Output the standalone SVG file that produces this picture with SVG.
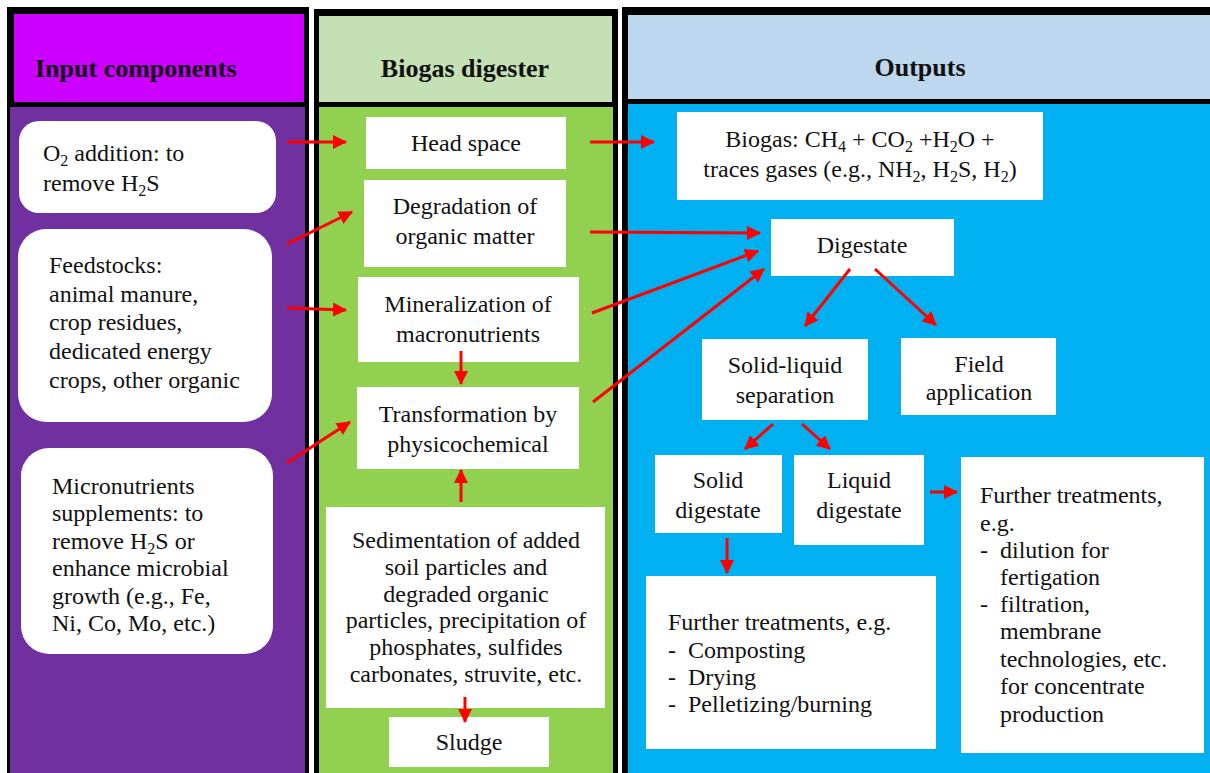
<svg xmlns="http://www.w3.org/2000/svg" width="1210" height="773" viewBox="0 0 1210 773" font-family="Liberation Serif, Times New Roman, DejaVu Serif, serif">
<style>
text{font-family:'Liberation Serif','Times New Roman','DejaVu Serif',serif;font-size:24px;fill:#111}
.h{font-weight:bold;font-size:26px}
.c{text-anchor:middle}
.s{font-size:16px}
.box{fill:#fff}
.con{stroke:#f00;stroke-width:3;fill:none;marker-end:url(#ah)}
</style>
<defs>
<marker id="ah" markerUnits="userSpaceOnUse" markerWidth="14" markerHeight="14" refX="13" refY="7" orient="auto">
<path d="M0,0 L14,7 L0,14 z" fill="#f00"/>
</marker>
</defs>
<rect width="1210" height="773" fill="#fff"/>
<g id="col-input">
<rect x="7" y="7" width="302" height="775" fill="#000"/>
<rect x="14" y="14" width="290" height="88" fill="#CC00FF"/>
<rect x="10" y="107" width="295" height="670" fill="#7030A0"/>
<text class="h" x="35" y="77">Input components</text>
</g>
<g id="col-digester">
<rect x="314" y="9" width="304" height="775" fill="#000"/>
<rect x="319" y="16" width="293" height="86" fill="#C5E0B4"/>
<rect x="319" y="107" width="294" height="670" fill="#92D050"/>
<text class="h c" x="465" y="77">Biogas digester</text>
</g>
<g id="col-outputs">
<rect x="622" y="7" width="600" height="775" fill="#000"/>
<rect x="628" y="15" width="590" height="84" fill="#BDD7EE"/>
<rect x="628" y="104" width="590" height="673" fill="#00B0F0"/>
<text class="h c" x="920" y="76">Outputs</text>
</g>
<g id="n-o2">
<rect class="box" x="19" y="121" width="257" height="92" rx="20"/>
<text x="43" y="161">O<tspan class="s" dy="5">2</tspan><tspan dy="-5"> addition: to</tspan></text>
<text x="43" y="191">remove H<tspan class="s" dy="5">2</tspan><tspan dy="-5">S</tspan></text>
</g>
<g id="n-feed">
<rect class="box" x="18" y="229" width="254" height="193" rx="28"/>
<text x="49" y="273">Feedstocks:</text>
<text x="49" y="302">animal manure,</text>
<text x="49" y="330">crop residues,</text>
<text x="49" y="359">dedicated energy</text>
<text x="49" y="388">crops, other organic</text>
</g>
<g id="n-micro">
<rect class="box" x="21" y="448" width="252" height="206" rx="28"/>
<text x="52" y="494">Micronutrients</text>
<text x="52" y="521">supplements: to</text>
<text x="52" y="549">remove H<tspan class="s" dy="5">2</tspan><tspan dy="-5">S or</tspan></text>
<text x="52" y="576">enhance microbial</text>
<text x="52" y="604">growth (e.g., Fe,</text>
<text x="52" y="631">Ni, Co, Mo, etc.)</text>
</g>
<g id="n-head">
<rect class="box" x="366" y="117" width="200" height="52"/>
<text class="c" x="466" y="151">Head space</text>
</g>
<g id="n-degr">
<rect class="box" x="364" y="180" width="202" height="87"/>
<text class="c" x="465" y="214">Degradation of</text>
<text class="c" x="465" y="244">organic matter</text>
</g>
<g id="n-miner">
<rect class="box" x="358" y="277" width="221" height="85"/>
<text class="c" x="468" y="312">Mineralization of</text>
<text class="c" x="468" y="342">macronutrients</text>
</g>
<g id="n-trans">
<rect class="box" x="357" y="387" width="222" height="82"/>
<text class="c" x="468" y="422">Transformation by</text>
<text class="c" x="468" y="452">physicochemical</text>
</g>
<g id="n-sed">
<rect class="box" x="326" y="507" width="279" height="201"/>
<text class="c" x="466" y="548">Sedimentation of added</text>
<text class="c" x="466" y="575">soil particles and</text>
<text class="c" x="466" y="602">degraded organic</text>
<text class="c" x="466" y="628">particles, precipitation of</text>
<text class="c" x="466" y="655">phosphates, sulfides</text>
<text class="c" x="466" y="682">carbonates, struvite, etc.</text>
</g>
<g id="n-sludge">
<rect class="box" x="389" y="717" width="160" height="50"/>
<text class="c" x="469" y="750">Sludge</text>
</g>
<g id="n-biogas">
<rect class="box" x="677" y="112" width="366" height="88"/>
<text class="c" x="860" y="147">Biogas: CH<tspan class="s" dy="5">4</tspan><tspan dy="-5"> + CO</tspan><tspan class="s" dy="5">2</tspan><tspan dy="-5"> +H</tspan><tspan class="s" dy="5">2</tspan><tspan dy="-5">O +</tspan></text>
<text class="c" x="860" y="177">traces gases (e.g., NH<tspan class="s" dy="5">2</tspan><tspan dy="-5">, H</tspan><tspan class="s" dy="5">2</tspan><tspan dy="-5">S, H</tspan><tspan class="s" dy="5">2</tspan><tspan dy="-5">)</tspan></text>
</g>
<g id="n-digestate">
<rect class="box" x="771" y="219" width="183" height="57"/>
<text class="c" x="862" y="253">Digestate</text>
</g>
<g id="n-sep">
<rect class="box" x="702" y="339" width="166" height="81"/>
<text class="c" x="785" y="373">Solid-liquid</text>
<text class="c" x="785" y="403">separation</text>
</g>
<g id="n-field">
<rect class="box" x="901" y="338" width="155" height="77"/>
<text class="c" x="979" y="372">Field</text>
<text class="c" x="979" y="400">application</text>
</g>
<g id="n-solid">
<rect class="box" x="655" y="455" width="127" height="78"/>
<text class="c" x="718" y="488">Solid</text>
<text class="c" x="718" y="518">digestate</text>
</g>
<g id="n-liquid">
<rect class="box" x="794" y="455" width="130" height="90"/>
<text class="c" x="859" y="488">Liquid</text>
<text class="c" x="859" y="518">digestate</text>
</g>
<g id="n-further-solid">
<rect class="box" x="646" y="576" width="290" height="173"/>
<text x="668" y="630">Further treatments, e.g.</text>
<text x="668" y="658">-</text><text x="688" y="658">Composting</text>
<text x="668" y="685">-</text><text x="688" y="685">Drying</text>
<text x="668" y="712">-</text><text x="688" y="712">Pelletizing/burning</text>
</g>
<g id="n-further-liquid">
<rect class="box" x="961" y="457" width="243" height="296"/>
<text x="980" y="503">Further treatments,</text>
<text x="980" y="531">e.g.</text>
<text x="980" y="558">-</text><text x="1000" y="558">dilution for</text>
<text x="1000" y="585">fertigation</text>
<text x="980" y="612">-</text><text x="1000" y="612">filtration,</text>
<text x="1000" y="639">membrane</text>
<text x="1000" y="667">technologies, etc.</text>
<text x="1000" y="694">for concentrate</text>
<text x="1000" y="722">production</text>
</g>
<g id="connectors">
<line class="con" x1="287" y1="142" x2="346" y2="142"/>
<line class="con" x1="287" y1="244" x2="352" y2="212"/>
<line class="con" x1="287" y1="308" x2="346" y2="310"/>
<line class="con" x1="287" y1="463" x2="350" y2="422"/>
<line class="con" x1="590" y1="142" x2="654" y2="142"/>
<line class="con" x1="590" y1="232" x2="760" y2="233"/>
<line class="con" x1="592" y1="313" x2="758" y2="251"/>
<line class="con" x1="593" y1="402" x2="764" y2="269"/>
<line class="con" x1="461" y1="351" x2="461" y2="384"/>
<line class="con" x1="461" y1="502" x2="461" y2="470"/>
<line class="con" x1="465" y1="697" x2="465" y2="722"/>
<line class="con" x1="850" y1="269" x2="805" y2="326"/>
<line class="con" x1="875" y1="269" x2="936" y2="325"/>
<line class="con" x1="773" y1="424" x2="745" y2="449"/>
<line class="con" x1="802" y1="424" x2="830" y2="449"/>
<line class="con" x1="727" y1="538" x2="727" y2="573"/>
<line class="con" x1="930" y1="492" x2="957" y2="492"/>
</g>
</svg>
